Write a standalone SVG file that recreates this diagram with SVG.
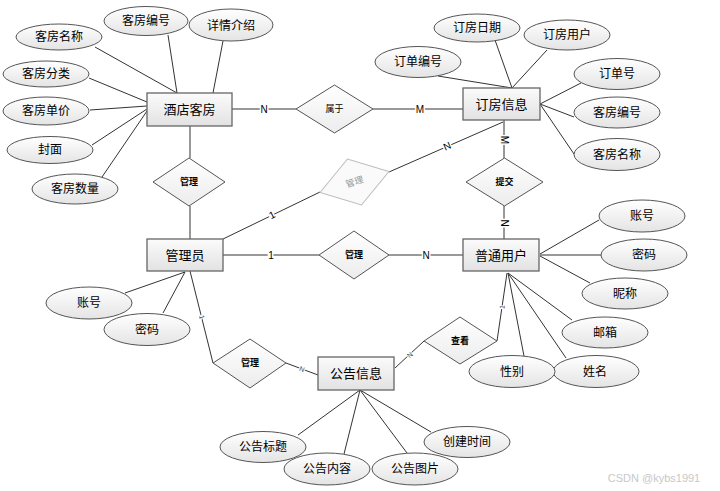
<svg xmlns="http://www.w3.org/2000/svg" width="720" height="491" viewBox="0 0 720 491">
<defs>
<linearGradient id="gE" x1="0" y1="0" x2="0" y2="1"><stop offset="0" stop-color="#ffffff"/><stop offset="1" stop-color="#e4e4e4"/></linearGradient>
<linearGradient id="gR" x1="0" y1="0" x2="0" y2="1"><stop offset="0" stop-color="#fbfbfb"/><stop offset="1" stop-color="#e2e2e2"/></linearGradient>
<linearGradient id="gD" x1="0" y1="0" x2="0" y2="1"><stop offset="0" stop-color="#ffffff"/><stop offset="1" stop-color="#ececec"/></linearGradient>
</defs>
<style>
.e{fill:url(#gE);stroke:#555;stroke-width:1}
.r{fill:url(#gR);stroke:#666;stroke-width:1.3}
.d{fill:url(#gD);stroke:#555;stroke-width:1}
.dl{fill:#fafafa;stroke:#bbb;stroke-width:1}
.ln{stroke:#333;stroke-width:1;fill:none}
.cn{stroke:#777;stroke-width:1.5;fill:none}
text{font-family:"Liberation Sans","Noto Sans CJK SC",sans-serif;text-anchor:middle;dominant-baseline:central;fill:#000}
.te{font-size:12px}
.tr{font-size:13px}
.td{font-size:9px;font-weight:bold}
.tn{font-size:9px}
.tg{font-size:9px;fill:#999}
.wm{font-size:11px;fill:#c8c8c8}
.tl{font-size:10px;paint-order:stroke;stroke:#fff;stroke-width:3}
.ts{font-size:7px;fill:#444;paint-order:stroke;stroke:#fff;stroke-width:2}
</style>
<rect width="720" height="491" fill="#fff"/>
<g id="connectors">
<line class="ln" x1="95" y1="47" x2="177" y2="93"/>
<line class="ln" x1="168" y1="35" x2="177" y2="93"/>
<line class="ln" x1="223" y1="41" x2="213" y2="93"/>
<line class="ln" x1="89" y1="78" x2="147" y2="102"/>
<line class="ln" x1="90" y1="110" x2="147" y2="106"/>
<line class="ln" x1="92" y1="145" x2="147" y2="109"/>
<line class="ln" x1="102" y1="177" x2="147" y2="111"/>
<line class="ln" x1="438" y1="76" x2="512" y2="88"/>
<line class="ln" x1="495" y1="40" x2="512" y2="88" stroke-width="1.3"/>
<line class="ln" x1="547" y1="50" x2="512" y2="88"/>
<line class="ln" x1="581" y1="83" x2="540" y2="104"/>
<line class="ln" x1="574" y1="117" x2="540" y2="104" stroke-width="1.3"/>
<line class="ln" x1="574" y1="154" x2="540" y2="104"/>
<line class="ln" x1="125" y1="293" x2="185" y2="272"/>
<line class="ln" x1="163" y1="313" x2="185" y2="272"/>
<line class="ln" x1="599" y1="220" x2="540" y2="254"/>
<line class="ln" x1="601" y1="255" x2="540" y2="255"/>
<line class="ln" x1="590" y1="283" x2="540" y2="256"/>
<line class="ln" x1="572" y1="320" x2="508" y2="273"/>
<line class="ln" x1="524" y1="356" x2="508" y2="273"/>
<line class="ln" x1="566" y1="358" x2="508" y2="273"/>
<line class="ln" x1="298" y1="435" x2="360" y2="390"/>
<line class="ln" x1="344" y1="454" x2="360" y2="390"/>
<line class="ln" x1="407" y1="453" x2="360" y2="390"/>
<line class="ln" x1="431" y1="432" x2="360" y2="390"/>
<line class="cn" x1="232" y1="109" x2="296" y2="109"/>
<line class="cn" x1="373" y1="109" x2="463" y2="109"/>
<line class="ln" x1="190" y1="126" x2="190" y2="158"/>
<line class="ln" x1="190" y1="206" x2="190" y2="239"/>
<line class="ln" x1="504" y1="120" x2="504" y2="158"/>
<line class="ln" x1="504" y1="206" x2="504" y2="239"/>
<line class="cn" x1="223" y1="255" x2="319" y2="255"/>
<line class="cn" x1="389" y1="255" x2="463" y2="255"/>
<line class="ln" x1="223" y1="239" x2="320" y2="192"/>
<line class="ln" x1="389" y1="172" x2="503" y2="122"/>
<line class="ln" x1="190" y1="271" x2="213" y2="363"/>
<line class="ln" x1="286" y1="363" x2="318" y2="375"/>
<line class="ln" x1="507" y1="273" x2="497" y2="341"/>
<line class="ln" x1="424" y1="341" x2="395" y2="368"/>
<text class="tl" x="264" y="109">N</text>
<text class="tl" x="420" y="109">M</text>
<text class="tl" transform="translate(504,140) rotate(90)">M</text>
<text class="tl" transform="translate(504,223) rotate(90)">N</text>
<text class="tl" x="271" y="255">1</text>
<text class="tl" x="426" y="255">N</text>
<text class="tl" transform="translate(272,215) rotate(-26)">1</text>
<text class="tl" transform="translate(447,146) rotate(-24)">N</text>
<text class="ts" transform="translate(202,317) rotate(76)">1</text>
<text class="ts" transform="translate(302,369) rotate(21)">N</text>
<text class="ts" transform="translate(410,355) rotate(-43)">N</text>
<text class="ts" transform="translate(502,307) rotate(-81)">1</text>
</g>
<g id="entity-hotelroom"><rect class="r" x="147" y="93" width="85" height="33"/><text class="tr" x="189.5" y="109.5">酒店客房</text></g>
<g id="entity-booking"><rect class="r" x="463" y="88" width="77" height="32"/><text class="tr" x="501.5" y="104">订房信息</text></g>
<g id="entity-admin"><rect class="r" x="147" y="239" width="76" height="32"/><text class="tr" x="185" y="255">管理员</text></g>
<g id="entity-user"><rect class="r" x="463" y="239" width="76" height="32"/><text class="tr" x="501" y="255">普通用户</text></g>
<g id="entity-notice"><rect class="r" x="318" y="357" width="76" height="33"/><text class="tr" x="356" y="373.5">公告信息</text></g>
<g id="rel-belong"><polygon class="d" points="296,109 334.5,85 373,109 334.5,133"/><text class="tn" x="334.5" y="109">属于</text></g>
<g id="rel-manage-room"><polygon class="d" points="153,182 189,158 225,182 189,206"/><text class="td" x="189" y="182">管理</text></g>
<g id="rel-manage-user"><polygon class="d" points="319,255 354,231 389,255 354,279"/><text class="td" x="354" y="255">管理</text></g>
<g id="rel-submit"><polygon class="d" points="466,182 504.5,158 543,182 504.5,206"/><text class="td" x="504.5" y="182">提交</text></g>
<g id="rel-manage-booking" transform="translate(354.5,182) rotate(-17)"><polygon class="dl" points="-36,0 0,-24 36,0 0,24"/><text class="tg" x="0" y="0">管理</text></g>
<g id="rel-manage-notice"><polygon class="d" points="213,363 250,339 286,363 250,388"/><text class="td" x="250" y="363">管理</text></g>
<g id="rel-view"><polygon class="d" points="424,341 460,317 497,341 460,364"/><text class="td" x="460" y="341">查看</text></g>
<g id="attr-room-name"><ellipse class="e" cx="59" cy="37" rx="43" ry="13"/><text class="te" x="59" y="37">客房名称</text></g>
<g id="attr-room-no"><ellipse class="e" cx="146" cy="21" rx="42" ry="14.5"/><text class="te" x="146" y="21">客房编号</text></g>
<g id="attr-detail"><ellipse class="e" cx="231" cy="25" rx="42" ry="16"/><text class="te" x="231" y="26">详情介绍</text></g>
<g id="attr-room-type"><ellipse class="e" cx="46" cy="74" rx="43" ry="13"/><text class="te" x="46" y="74">客房分类</text></g>
<g id="attr-room-price"><ellipse class="e" cx="46" cy="111" rx="43" ry="14"/><text class="te" x="46" y="111">客房单价</text></g>
<g id="attr-cover"><ellipse class="e" cx="50" cy="150" rx="43" ry="13.5"/><text class="te" x="50" y="150">封面</text></g>
<g id="attr-room-count"><ellipse class="e" cx="75" cy="189" rx="43" ry="15"/><text class="te" x="75" y="189">客房数量</text></g>
<g id="attr-book-date"><ellipse class="e" cx="477" cy="28" rx="43" ry="14"/><text class="te" x="477" y="28">订房日期</text></g>
<g id="attr-book-user"><ellipse class="e" cx="567" cy="35" rx="43" ry="15"/><text class="te" x="567" y="35">订房用户</text></g>
<g id="attr-order-code"><ellipse class="e" cx="418" cy="62" rx="43" ry="15.5"/><text class="te" x="418" y="62">订单编号</text></g>
<g id="attr-order-no"><ellipse class="e" cx="617" cy="74" rx="43" ry="15.5"/><text class="te" x="617" y="74">订单号</text></g>
<g id="attr-b-room-no"><ellipse class="e" cx="617" cy="112.5" rx="43" ry="15.5"/><text class="te" x="617" y="112.5">客房编号</text></g>
<g id="attr-b-room-name"><ellipse class="e" cx="617" cy="154.5" rx="43" ry="16"/><text class="te" x="617" y="154.5">客房名称</text></g>
<g id="attr-admin-acc"><ellipse class="e" cx="89" cy="303" rx="43" ry="16"/><text class="te" x="89" y="303">账号</text></g>
<g id="attr-admin-pwd"><ellipse class="e" cx="147" cy="329.5" rx="43" ry="16"/><text class="te" x="147" y="330">密码</text></g>
<g id="attr-user-acc"><ellipse class="e" cx="642" cy="216" rx="43" ry="16"/><text class="te" x="642" y="216">账号</text></g>
<g id="attr-user-pwd"><ellipse class="e" cx="644" cy="255" rx="43" ry="16"/><text class="te" x="644" y="255">密码</text></g>
<g id="attr-user-nick"><ellipse class="e" cx="625" cy="293.5" rx="43" ry="15.5"/><text class="te" x="625" y="294">昵称</text></g>
<g id="attr-user-mail"><ellipse class="e" cx="605" cy="332.5" rx="43" ry="15.5"/><text class="te" x="605" y="333">邮箱</text></g>
<g id="attr-user-name"><ellipse class="e" cx="596" cy="371.5" rx="43" ry="16"/><text class="te" x="595" y="372">姓名</text></g>
<g id="attr-user-sex"><ellipse class="e" cx="512" cy="371.5" rx="43" ry="16"/><text class="te" x="512" y="372">性别</text></g>
<g id="attr-notice-title"><ellipse class="e" cx="263" cy="447" rx="43" ry="15.5"/><text class="te" x="263" y="447">公告标题</text></g>
<g id="attr-notice-content"><ellipse class="e" cx="327" cy="469" rx="43" ry="16"/><text class="te" x="327" y="469">公告内容</text></g>
<g id="attr-notice-image"><ellipse class="e" cx="415" cy="469" rx="43" ry="16"/><text class="te" x="415" y="469">公告图片</text></g>
<g id="attr-notice-time"><ellipse class="e" cx="467" cy="442" rx="43" ry="15.5"/><text class="te" x="467" y="442">创建时间</text></g>
<text class="wm" x="654" y="478">CSDN @kybs1991</text>
</svg>
